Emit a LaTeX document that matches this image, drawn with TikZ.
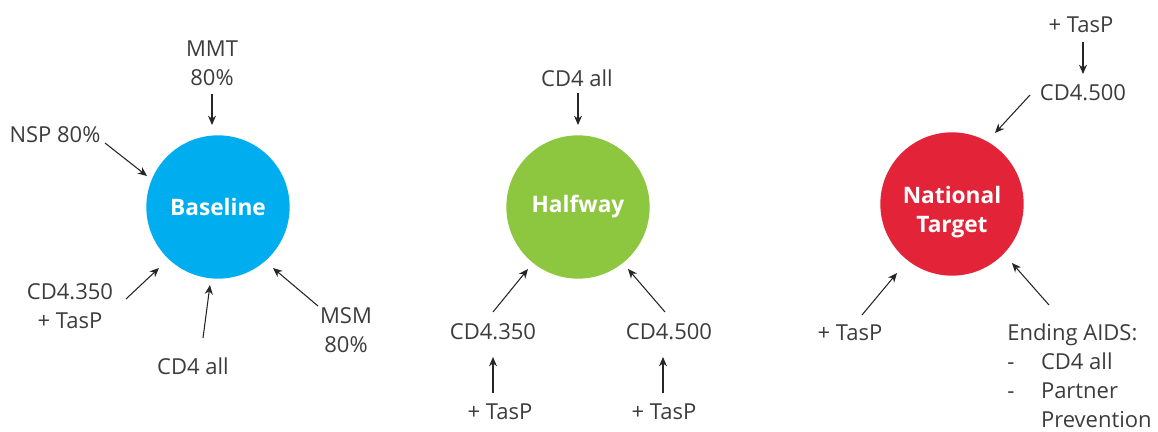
\documentclass[tikz,border=0pt]{standalone}
\usepackage{fontspec}
\setmainfont{Open Sans}
\usetikzlibrary{arrows.meta,calc}

\definecolor{baseblue}{RGB}{0,174,239}
\definecolor{halfgreen}{RGB}{141,198,63}
\definecolor{targetred}{RGB}{227,35,56}
\definecolor{txtgray}{RGB}{60,60,60}

\tikzset{
  stage/.style={circle,minimum size=107.5pt,inner sep=0pt,text=white,align=center,
    font=\fontsize{17}{21.75}\selectfont\bfseries},
  lbl/.style={text=txtgray,align=center,inner sep=0pt,
    font=\fontsize{16.5}{21.75}\selectfont},
  arr/.style={-{Stealth[length=7pt,width=6pt]},line width=0.8pt,color=black!85}
}

\begin{document}
\begin{tikzpicture}[x=0.75pt,y=0.75pt,yscale=-1,xscale=1]
\useasboundingbox (0,0) rectangle (1158,432);

%Shape: Circle [Baseline]
\node[stage,fill=baseblue] (base) at (218,207) {Baseline};
%Shape: Circle [Halfway]
\node[stage,fill=halfgreen] (half) at (578,207) {Halfway};
%Shape: Circle [National Target]
\node[stage,fill=targetred] (natl) at (952,204)
  {\raisebox{-10.3pt}[0pt][0pt]{\begin{tabular}{@{}c@{}}National\\Target\end{tabular}}};

% Text Node
\node[lbl] (mmt) at (212,63) {MMT\\80\%};
% Text Node
\node[lbl] (nsp) at (55,135) {NSP 80\%};
% Text Node
\node[lbl] (cdtl) at (70,306) {CD4.350\\+ TasP};
% Text Node
\node[lbl] (cdallA) at (193,366) {CD4 all};
% Text Node
\node[lbl] (msm) at (346,330) {MSM\\80\%};

% Text Node
\node[lbl] (cdallB) at (577,78) {CD4 all};
% Text Node
\node[lbl] (cdlo) at (493,332) {CD4.350};
% Text Node
\node[lbl] (cdhi) at (669,332) {CD4.500};
% Text Node
\node[lbl] (taspA) at (500,412) {+ TasP};
% Text Node
\node[lbl] (taspB) at (664,412) {+ TasP};

% Text Node
\node[lbl] (taspC) at (1081,25) {+ TasP};
% Text Node
\node[lbl] (cdtop) at (1083,93) {CD4.500};
% Text Node
\node[lbl] (taspD) at (850,333) {+ TasP};
% Text Node
\node[lbl,anchor=north west] (endaids) at (1007,320) {%
  \begin{tabular}{@{}l@{\hspace{20pt}}l@{}}
    \multicolumn{2}{@{}l@{}}{Ending AIDS:}\\
    - & CD4 all\\
    - & Partner\\
      & Prevention
  \end{tabular}};

%Straight Lines [Baseline]
\draw[arr] ($(mmt)+(0,31)$) -- ($(base)+(-6,-82)$);
\draw[arr] ($(nsp)+(50,8)$) -- ($(base)+(-71,-31)$);
\draw[arr] ($(cdtl)+(56,-7)$) -- ($(base)+(-59,61)$);
\draw[arr] ($(cdallA)+(10,-28)$) -- ($(base)+(-8,78)$);
\draw[arr] ($(msm)+(-28,-24)$) -- ($(base)+(55,61)$);

%Straight Lines [Halfway]
\draw[arr] ($(cdallB)+(1,15)$) -- ($(half)+(0,-82)$);
\draw[arr] ($(cdlo)+(0,-20)$) -- ($(half)+(-50,62)$);
\draw[arr] ($(cdhi)+(-4,-20)$) -- ($(half)+(50,62)$);
\draw[arr] ($(taspA)+(-7,-19)$) -- ($(cdlo)+(0,25)$);
\draw[arr] ($(taspB)+(-1,-19)$) -- ($(cdhi)+(-6,25)$);

%Straight Lines [National Target]
\draw[arr] ($(taspC)+(2,17)$) -- ($(cdtop)+(0,-19)$);
\draw[arr] ($(cdtop)+(-53,2)$) -- ($(natl)+(43,-71)$);
\draw[arr] ($(taspD)+(12,-18)$) -- ($(natl)+(-55,69)$);
\draw[arr] ($(endaids.north west)+(42,-15)$) -- ($(natl)+(60,59)$);

\end{tikzpicture}
\end{document}
